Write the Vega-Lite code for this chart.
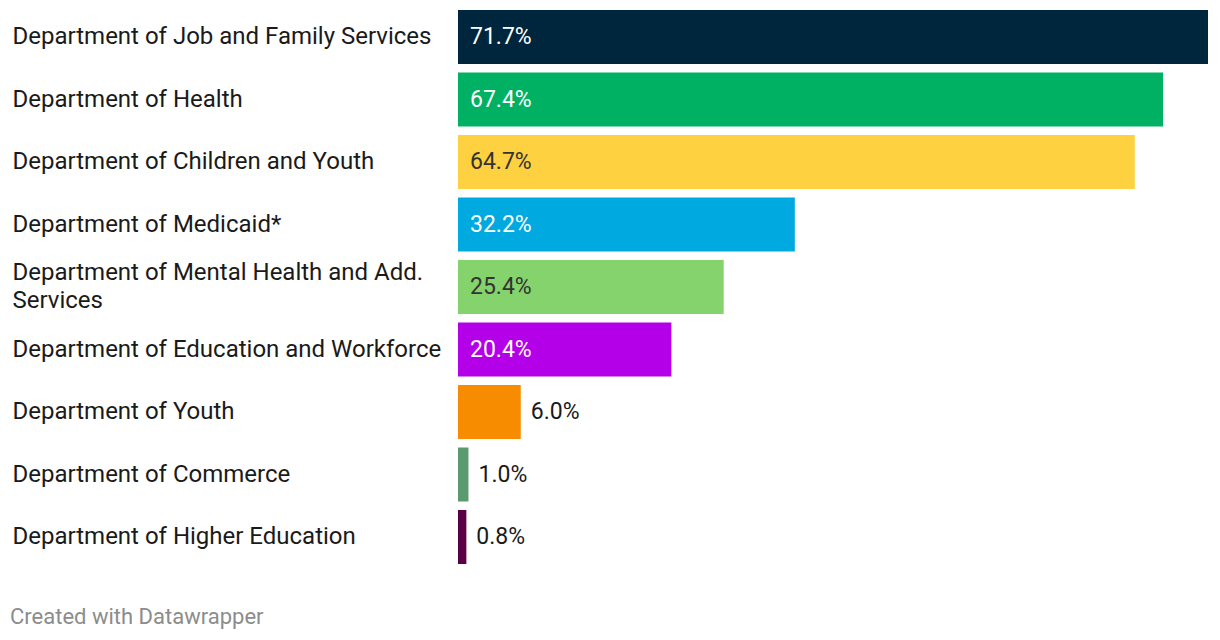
{
  "$schema": "https://vega.github.io/schema/vega-lite/v6.json",
  "width": 750,
  "height": 554,
  "autosize": {"type": "none"},
  "padding": {"left": 458, "top": 10, "right": 12, "bottom": 76},
  "background": "#ffffff",
  "config": {"view": {"stroke": null}, "font": "Roboto"},
  "title": {
    "text": "Created with Datawrapper",
    "orient": "bottom",
    "anchor": "start",
    "frame": "bounds",
    "font": "Roboto",
    "fontSize": 22,
    "fontWeight": "normal",
    "color": "#8c8c8c",
    "offset": 43,
    "dx": -2
  },
  "data": {
    "values": [
      {"dept": "Department of Job and Family Services", "pct": 71.7},
      {"dept": "Department of Health", "pct": 67.4},
      {"dept": "Department of Children and Youth", "pct": 64.7},
      {"dept": "Department of Medicaid*", "pct": 32.2},
      {"dept": "Department of Mental Health and Add. Services", "pct": 25.4},
      {"dept": "Department of Education and Workforce", "pct": 20.4},
      {"dept": "Department of Youth", "pct": 6.0},
      {"dept": "Department of Commerce", "pct": 1.0},
      {"dept": "Department of Higher Education", "pct": 0.8}
    ]
  },
  "transform": [{"calculate": "format(datum.pct, '.1f') + '%'", "as": "label"}],
  "encoding": {
    "y": {
      "field": "dept",
      "type": "nominal",
      "sort": null,
      "title": null,
      "scale": {"paddingInner": 0.136, "paddingOuter": 0},
      "axis": {
        "domain": false,
        "ticks": false,
        "grid": false,
        "labelAlign": "left",
        "labelBaseline": "middle",
        "labelPadding": 446,
        "labelFont": "Roboto",
        "labelFontSize": 24,
        "labelColor": "#1a1a1a",
        "labelLimit": 0,
        "labelLineHeight": 28,
        "labelOffset": {"condition": {"test": "datum.value == 'Department of Mental Health and Add. Services'", "value": -14}, "value": 0},
        "labelExpr": "datum.value == 'Department of Mental Health and Add. Services' ? ['Department of Mental Health and Add.', 'Services'] : datum.value"
      }
    }
  },
  "layer": [
    {
      "mark": {"type": "bar"},
      "encoding": {
        "x": {"field": "pct", "type": "quantitative", "scale": {"domain": [0, 71.7], "nice": false}, "axis": null},
        "color": {
          "field": "dept",
          "type": "nominal",
          "legend": null,
          "scale": {
            "domain": [
              "Department of Job and Family Services",
              "Department of Health",
              "Department of Children and Youth",
              "Department of Medicaid*",
              "Department of Mental Health and Add. Services",
              "Department of Education and Workforce",
              "Department of Youth",
              "Department of Commerce",
              "Department of Higher Education"
            ],
            "range": ["#00263d", "#00b063", "#fdd13f", "#00a9e0", "#84d36c", "#b300e8", "#f78c00", "#5a9a6e", "#5c0046"]
          }
        }
      }
    },
    {
      "transform": [{"filter": "datum.pct > 15"}],
      "mark": {"type": "text", "align": "left", "baseline": "middle", "dx": 12, "font": "Roboto", "fontSize": 23},
      "encoding": {
        "x": {"datum": 0, "type": "quantitative"},
        "text": {"field": "label", "type": "nominal"},
        "color": {
          "condition": {"test": "datum.dept == 'Department of Children and Youth' || datum.dept == 'Department of Mental Health and Add. Services'", "value": "#333333"},
          "value": "#ffffff"
        }
      }
    },
    {
      "transform": [{"filter": "datum.pct <= 15"}],
      "mark": {"type": "text", "align": "left", "baseline": "middle", "dx": 10, "font": "Roboto", "fontSize": 23, "color": "#1a1a1a"},
      "encoding": {
        "x": {"field": "pct", "type": "quantitative"},
        "text": {"field": "label", "type": "nominal"}
      }
    }
  ]
}
